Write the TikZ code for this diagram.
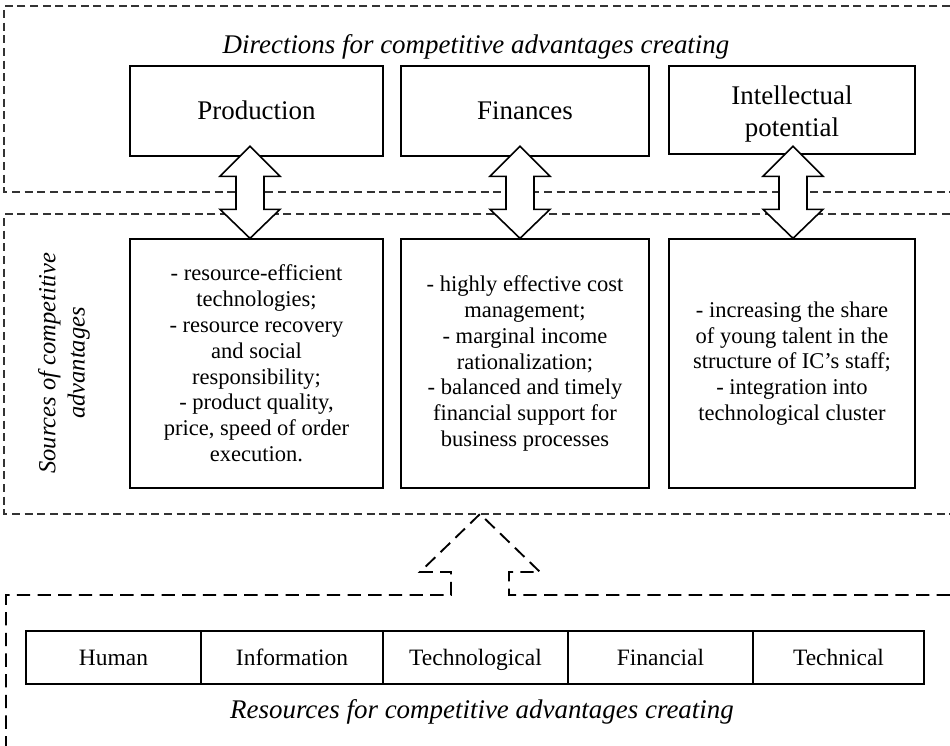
\documentclass[tikz,border=0pt]{standalone}
\usepackage{fontspec}
\setmainfont{Liberation Serif}
\usetikzlibrary{calc}
\begin{document}
\begin{tikzpicture}[x=0.75pt,y=-0.75pt,
  zone/.style={draw=black!80, line width=0.9pt, dash pattern=on 6pt off 3.5pt},
  reszone/.style={draw=black, line width=1.4pt, dash pattern=on 10pt off 5.5pt},
  heading/.style={font=\fontsize{20.2}{23.3}\selectfont\itshape},
  dirbox/.style={draw, line width=1pt, inner sep=0pt, align=center,
    text height=16pt, text depth=4pt,
    minimum height=67.5pt, font=\fontsize{20.2}{23.3}\selectfont},
  srcbox/.style={draw, line width=1pt, inner sep=0pt, align=center,
    minimum height=186.75pt, font=\fontsize{16.9}{19.35}\selectfont},
  rescell/.style={draw, line width=1pt, inner sep=0pt, align=center,
    text height=15.6pt, text depth=4pt,
    minimum height=39.75pt, font=\fontsize{17.6}{20}\selectfont},
  twoway/.style={draw, line width=1.2pt, fill=white, line join=miter},
  twoway arrow/.pic={
    \path[twoway] (0,0) -- (-30,-29) -- (-14,-29) -- (-14,-62) -- (-30,-62)
      -- (0,-92) -- (30,-62) -- (14,-62) -- (14,-29) -- (30,-29) -- cycle;
  }
]
\useasboundingbox (0,0) rectangle (950,746);

% dashed zones
\draw[zone] (950,6) -- (4,6) -- (4,192) -- (950,192);
\draw[zone] (950,214) -- (4,214) -- (4,514) -- (950,514);

% resources zone with its hollow dashed arrow
\coordinate (restip) at (480,514);
\draw[reszone] (950,595) -- (509,595) -- (509,572) -- (540,572) -- (restip)
  -- (420,572) -- (451,572) -- (451,595) -- (6,595) -- (6,750);

% titles
\node[heading] (dirtitle) at (476,47) {Directions for competitive advantages creating};
\node[heading] (restitle) at (482,712) {Resources for competitive advantages creating};
\node[font=\fontsize{18.4}{22}\selectfont\itshape, align=center, rotate=90]
  (srctitle) at (64,363) {Sources of competitive\\advantages};

% directions
\node[dirbox, minimum width=189.75pt] (prod) at (256.5,111) {Production};
\node[dirbox, minimum width=186pt] (fin) at (525,111) {Finances};
\node[dirbox, minimum width=184.5pt, minimum height=66pt,
  text height=39pt, text depth=0pt] (intel) at (792,110)
  {Intellectual\\potential};

% sources
\node[srcbox, minimum width=189.75pt] (psrc) at (256.5,363.5)
  {- resource-efficient\\technologies;\\- resource recovery\\and social\\responsibility;\\- product quality,\\price, speed of order\\execution.};
\node[srcbox, minimum width=186pt] (fsrc) at (525,363.5)
  {- highly effective cost\\management;\\- marginal income\\rationalization;\\- balanced and timely\\financial support for\\business processes};
\node[srcbox, minimum width=184.5pt] (isrc) at (792,363.5)
  {- increasing the share\\of young talent in the\\structure of IC's staff;\\- integration into\\technological cluster};

% two-way links between directions and sources
\pic at (250,0 |- psrc.north) {twoway arrow};
\pic at (520,0 |- fsrc.north) {twoway arrow};
\pic at (793,0 |- isrc.north) {twoway arrow};

% resources
\node[rescell, minimum width=131.25pt] (human) at (113.5,657.5) {Human};
\node[rescell, minimum width=136.5pt] (info) at (292,657.5) {Information};
\node[rescell, minimum width=138.75pt] (techno) at (475.5,657.5) {Technological};
\node[rescell, minimum width=138.75pt] (financ) at (660.5,657.5) {Financial};
\node[rescell, minimum width=128.25pt] (techn) at (838.5,657.5) {Technical};
\end{tikzpicture}
\end{document}
